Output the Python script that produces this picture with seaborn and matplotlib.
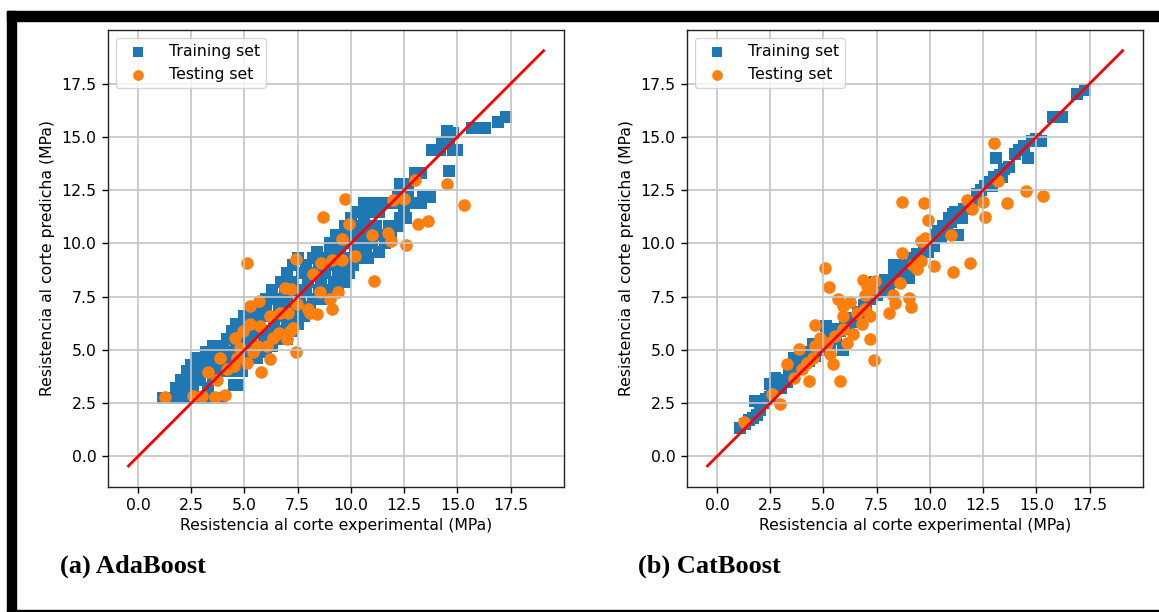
import matplotlib
matplotlib.use("Agg")
import matplotlib.pyplot as plt
import seaborn as sns
import pandas as pd
from matplotlib.patches import Rectangle

# ---------------- data ----------------
ada_train = [
    (1.15, 2.75), (1.4, 2.75), (1.6, 2.75), (1.9, 2.75), (2.2, 2.75), (2.5, 2.75), (2.8, 2.75),
    (3.1, 2.75), (3.4, 2.75), (3.7, 2.75), (3.9, 2.75),
    (1.8, 3.2), (2.2, 3.2), (2.6, 3.2), (3.3, 3.2), (4.5, 3.35), (4.7, 3.35),
    (2.0, 3.6), (2.5, 3.6), (2.9, 3.6), (3.5, 3.6),
    (2.3, 4.0), (2.6, 4.0), (3.0, 4.0), (3.4, 4.0), (3.8, 4.0), (4.3, 4.0), (4.9, 4.0),
    (2.5, 4.3), (2.9, 4.3), (3.2, 4.3), (3.6, 4.3), (4.1, 4.3), (4.6, 4.3),
    (2.7, 4.6), (3.0, 4.6), (3.4, 4.6), (4.0, 4.6), (4.4, 4.6), (5.0, 4.6), (5.6, 4.6),
    (3.2, 4.9), (3.7, 4.9), (4.2, 4.9), (4.8, 4.9), (5.4, 4.9), (6.0, 4.9),
    (3.5, 5.2), (4.0, 5.2), (4.6, 5.2), (5.1, 5.2), (5.8, 5.2), (6.3, 5.2),
    (4.2, 5.5), (4.7, 5.5), (5.3, 5.5), (5.9, 5.5), (6.5, 5.5), (7.0, 5.5),
    (4.4, 5.9), (4.9, 5.9), (5.5, 5.9), (6.1, 5.9), (6.7, 5.9), (7.2, 5.9),
    (4.6, 6.2), (5.1, 6.2), (5.7, 6.2), (6.4, 6.2), (7.0, 6.2), (7.5, 6.2),
    (5.0, 6.6), (5.5, 6.6), (6.0, 6.6), (6.6, 6.6), (7.3, 6.6), (7.8, 6.6),
    (5.5, 7.0), (6.0, 7.0), (6.6, 7.0), (7.2, 7.0), (7.7, 7.0), (8.1, 7.0),
    (6.0, 7.4), (6.5, 7.4), (7.0, 7.4), (7.6, 7.4), (8.2, 7.4), (8.6, 7.4),
    (6.3, 7.8), (6.9, 7.8), (7.4, 7.8), (7.9, 7.8), (8.5, 7.8), (9.0, 7.8), (9.4, 7.8),
    (6.7, 8.2), (7.3, 8.2), (8.0, 8.2), (8.6, 8.2), (9.2, 8.2), (9.7, 8.2),
    (7.0, 8.6), (7.7, 8.6), (8.3, 8.6), (8.8, 8.6), (9.4, 8.6), (9.9, 8.6),
    (7.3, 9.0), (7.9, 9.0), (8.5, 9.0), (9.0, 9.0), (9.6, 9.0), (10.1, 9.0),
    (7.5, 9.3), (8.2, 9.3), (8.7, 9.3), (9.3, 9.3), (9.9, 9.3), (10.4, 9.3), (10.8, 9.3),
    (8.4, 9.6), (9.0, 9.6), (9.5, 9.6), (10.2, 9.6), (10.7, 9.6), (11.3, 9.6),
    (9.0, 10.0), (9.6, 10.0), (10.0, 10.0), (10.5, 10.0), (11.0, 10.0), (11.6, 10.0),
    (9.3, 10.4), (9.8, 10.4), (10.3, 10.4), (10.8, 10.4), (11.4, 10.4), (11.9, 10.4),
    (9.7, 10.8), (10.2, 10.8), (10.7, 10.8), (11.2, 10.8), (11.8, 10.8), (12.2, 10.8),
    (10.0, 11.2), (10.6, 11.2), (12.3, 11.2), (12.6, 11.2),
    (10.3, 11.5), (10.8, 11.5), (11.3, 11.5), (12.5, 11.5),
    (10.6, 11.9), (11.0, 11.9), (11.5, 11.9), (11.9, 11.9), (12.4, 11.9), (12.9, 11.9), (13.3, 11.9),
    (12.2, 12.2), (12.7, 12.2), (13.4, 12.2), (13.7, 12.2),
    (12.3, 12.8), (12.7, 12.8), (13.0, 13.3), (13.3, 13.3), (14.6, 13.4),
    (13.8, 14.4), (14.2, 14.4), (14.8, 14.4), (15.0, 14.4), (14.3, 14.7), (14.6, 14.7),
    (14.5, 15.3), (14.8, 15.2), (15.7, 15.4), (16.0, 15.4), (16.3, 15.4),
    (16.9, 15.7), (17.3, 15.95),
]
ada_test = [
    (1.28, 2.77), (2.6, 2.84), (3.0, 2.84), (3.6, 2.8), (4.1, 2.9), (3.3, 3.97), (3.7, 3.6),
    (4.17, 4.1), (4.5, 4.25), (3.86, 4.64), (4.64, 4.64), (5.1, 4.4), (5.77, 3.94), (5.4, 4.9),
    (6.2, 4.56), (7.4, 4.9), (6.05, 5.2), (5.6, 5.2), (4.8, 5.1), (4.56, 5.58), (4.95, 5.9),
    (5.27, 6.2), (5.73, 6.1), (6.2, 6.6), (6.36, 5.58), (6.6, 5.8), (6.98, 5.5), (7.14, 5.9),
    (7.3, 6.05), (5.27, 7.06), (5.66, 7.3), (6.9, 7.9), (7.2, 7.85), (7.45, 7.14), (7.06, 6.75),
    (6.67, 6.75), (8.08, 6.75), (8.4, 6.67), (8.0, 6.9), (9.1, 6.9), (9.0, 7.4), (8.55, 7.7),
    (9.4, 7.7), (8.23, 8.55), (8.6, 9.1), (9.1, 9.2), (9.56, 9.2), (7.4, 9.25), (5.1, 9.1),
    (10.2, 9.4), (11.1, 8.23), (9.6, 10.2), (11.0, 10.4), (11.75, 10.5), (11.9, 10.1),
    (12.6, 9.95), (8.67, 11.25), (9.9, 10.9), (9.7, 12.1), (12.0, 12.06), (12.5, 12.1),
    (13.15, 10.9), (13.6, 11.05), (13.0, 12.97), (14.5, 12.8), (15.3, 11.8),
]
cat_train = [
    (1.1, 1.35), (1.3, 1.5), (1.5, 1.7), (1.7, 1.8), (1.9, 1.95), (2.0, 2.2), (1.8, 2.6),
    (2.2, 2.5), (2.3, 2.7), (2.5, 2.8), (2.6, 3.0), (2.6, 3.3), (2.5, 3.4), (2.8, 3.6),
    (2.7, 3.7), (2.9, 3.4), (3.0, 3.2), (3.1, 3.5), (3.3, 3.5), (3.4, 3.8), (3.6, 3.9),
    (3.7, 4.1), (3.8, 4.4), (3.6, 4.6), (4.0, 4.3), (4.0, 4.9), (4.1, 4.6), (4.3, 4.5),
    (4.4, 4.9), (4.5, 5.3), (4.6, 4.7), (4.7, 5.1), (4.9, 5.0), (5.0, 5.3), (5.1, 6.1),
    (5.2, 5.6), (5.3, 5.1), (5.5, 6.0), (5.6, 5.5), (5.8, 5.9), (5.9, 5.0), (6.0, 6.2),
    (6.2, 6.0), (6.3, 6.5), (6.5, 6.3), (6.6, 6.8), (6.8, 6.6), (6.9, 7.1), (7.0, 6.9),
    (7.2, 7.4), (7.3, 7.9), (7.4, 8.2), (7.5, 7.6), (7.6, 8.1), (7.8, 7.8), (7.9, 8.3),
    (8.1, 8.0), (8.3, 8.5), (8.3, 9.0), (8.4, 8.2), (8.5, 8.3), (8.6, 8.8), (8.8, 8.6),
    (8.9, 9.0), (9.0, 8.4), (9.1, 8.8), (9.2, 9.3), (9.3, 9.0), (9.4, 9.5), (9.5, 9.2),
    (9.7, 9.8), (9.9, 9.6), (10.0, 10.0), (10.2, 9.9), (10.3, 10.4), (10.4, 10.6),
    (10.5, 10.3), (10.6, 10.8), (10.8, 10.6), (10.9, 11.2), (11.0, 11.0), (11.1, 11.4),
    (11.2, 11.5), (11.3, 10.4), (11.4, 11.3), (11.5, 11.2), (11.6, 11.6), (11.8, 11.9),
    (12.0, 12.0), (12.2, 12.3), (12.3, 12.2), (12.4, 12.5), (12.6, 12.7), (12.8, 12.9),
    (12.9, 12.7), (13.0, 13.1), (13.1, 14.0), (13.3, 13.2), (13.4, 13.1), (13.5, 13.5),
    (13.7, 13.6), (14.0, 14.2), (14.2, 14.4), (14.4, 14.6), (14.6, 14.0), (14.8, 14.8),
    (15.0, 14.9), (15.2, 14.8), (15.8, 15.95), (16.2, 15.95), (16.9, 17.0), (17.3, 17.2),
]
cat_test = [
    (1.28, 1.63), (2.58, 2.92), (2.97, 2.45), (3.28, 4.33), (3.6, 3.7), (3.83, 5.03),
    (3.98, 4.1), (4.3, 3.55), (4.22, 4.4), (4.53, 4.64), (4.6, 5.19), (4.84, 5.58),
    (4.58, 6.17), (5.3, 4.8), (5.47, 4.33), (5.78, 3.55), (5.16, 5.34), (5.55, 5.66),
    (5.94, 5.97), (6.1, 5.34), (6.4, 5.73), (6.8, 6.2), (7.19, 5.5), (7.39, 4.52),
    (5.08, 8.83), (5.28, 7.95), (5.7, 7.4), (5.94, 7.06), (6.25, 7.25), (5.94, 6.6),
    (6.88, 8.3), (7.03, 8.0), (6.95, 7.6), (7.42, 8.23), (7.27, 7.84), (6.56, 6.75),
    (6.95, 6.9), (7.2, 6.6), (8.1, 6.75), (8.36, 7.19), (8.28, 7.6), (8.6, 8.15),
    (9.0, 7.42), (9.1, 7.03), (8.67, 9.56), (9.2, 9.0), (9.4, 8.78), (9.6, 9.17),
    (10.2, 8.94), (11.1, 8.66), (11.9, 9.1), (9.6, 10.1), (9.77, 10.27), (9.9, 11.08),
    (8.7, 11.94), (9.7, 11.88), (11.0, 10.4), (11.75, 12.06), (12.0, 11.6), (12.5, 11.94),
    (12.58, 11.23), (13.6, 11.9), (13.2, 12.95), (13.0, 14.7), (14.5, 12.48), (15.3, 12.22),
]
ideal_line = [-0.45, 19.05]
tick_values = [0.0, 2.5, 5.0, 7.5, 10.0, 12.5, 15.0, 17.5]
panel_titles = ["(a) AdaBoost", "(b) CatBoost"]
series_labels = ["Training set", "Testing set"]
x_label = "Resistencia al corte experimental (MPa)"
y_label = "Resistencia al corte predicha (MPa)"

# ---------------- figure ----------------
W, H = 1159, 612
fig = plt.figure(figsize=(W / 100, H / 100), dpi=100)
FS = 11.3

# frame like the source document
fig.patches.append(Rectangle((7 / W, 1 - 21 / H), 1 - 7 / W, 10 / H, transform=fig.transFigure,
                             color="black", zorder=0))
fig.patches.append(Rectangle((7 / W, 0), 9 / W, 1 - 11 / H, transform=fig.transFigure,
                             color="black", zorder=0))
fig.patches.append(Rectangle((7 / W, 0), 1 - 7 / W, 2 / H, transform=fig.transFigure,
                             color="black", zorder=0))

ax_w, ax_h = 456.6 / W, 456.7 / H
ax_bottom = 1 - 486.7 / H
lefts = [107.7 / W, 686.7 / W]
data = [(ada_train, ada_test), (cat_train, cat_test)]
title_x = [60 / W, 638 / W]

for i in range(2):
    ax = fig.add_axes([lefts[i], ax_bottom, ax_w, ax_h])
    tr = pd.DataFrame(data[i][0], columns=["exp", "pred"])
    te = pd.DataFrame(data[i][1], columns=["exp", "pred"])
    sns.scatterplot(data=tr, x="exp", y="pred", marker="s", s=74, color="#1f77b4",
                    linewidth=0, label=series_labels[0], ax=ax)
    sns.scatterplot(data=te, x="exp", y="pred", marker="o", s=82, color="#ff7f0e",
                    linewidth=0, label=series_labels[1], ax=ax)
    ax.plot(ideal_line, ideal_line, color="red", lw=2.0)
    span = ideal_line[1] - ideal_line[0]
    lo, hi = ideal_line[0] - 0.05 * span, ideal_line[1] + 0.05 * span
    ax.set_xlim(lo, hi)
    ax.set_ylim(lo, hi)
    ax.set_xticks(tick_values)
    ax.set_yticks(tick_values)
    ax.set_xticklabels([f"{v:.1f}" for v in tick_values])
    ax.set_yticklabels([f"{v:.1f}" for v in tick_values])
    ax.tick_params(labelsize=FS, length=4.5, width=1.0)
    ax.grid(True, color="#c4c4c4", lw=1.2)
    ax.set_xlabel(x_label, fontsize=FS, labelpad=4)
    ax.set_ylabel(y_label, fontsize=FS, labelpad=5)
    for sp in ax.spines.values():
        sp.set_linewidth(1.0)
        sp.set_color("#222222")
    leg = ax.legend(loc="upper left", fontsize=FS, borderaxespad=0.5, handletextpad=1.0,
                    markerscale=0.85)
    fig.text(title_x[i], 1 - 566 / H, panel_titles[i], fontsize=19, fontweight="bold",
             family="Liberation Serif", ha="left", va="center")

fig.savefig("out.png", dpi=100)
